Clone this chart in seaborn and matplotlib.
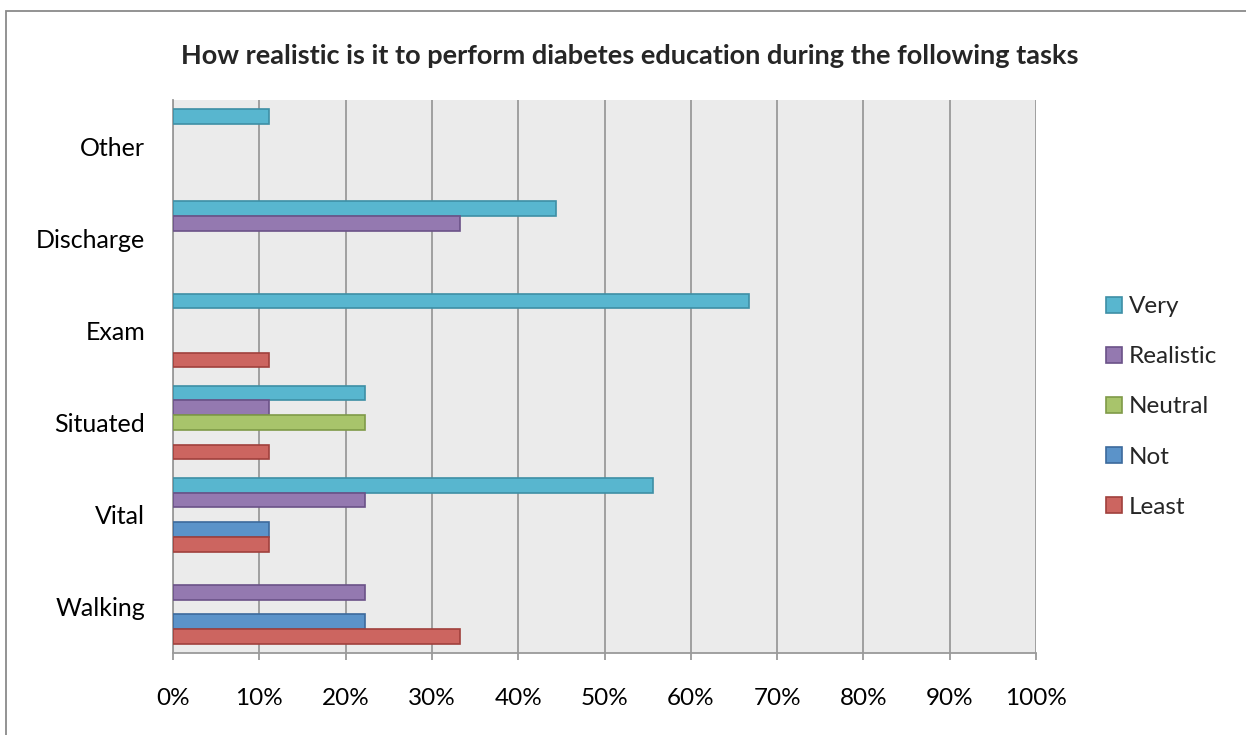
import matplotlib
matplotlib.use("Agg")
import matplotlib.pyplot as plt
import seaborn as sns
import pandas as pd
from matplotlib.patches import Patch, Rectangle
from matplotlib.ticker import MultipleLocator, PercentFormatter

# ---- data ----
tasks = ["Other", "Discharge", "Exam", "Situated", "Vital", "Walking"]  # top -> bottom
levels = ["Very", "Realistic", "Neutral", "Not", "Least"]               # top -> bottom in group
very      = [11.1, 44.4, 66.7, 22.2, 55.6, 0.0]
realistic = [0.0, 33.3, 0.0, 11.1, 22.2, 22.2]
neutral   = [0.0, 0.0, 0.0, 22.2, 0.0, 0.0]
not_      = [0.0, 0.0, 0.0, 0.0, 11.1, 22.2]
least     = [0.0, 0.0, 11.1, 11.1, 11.1, 33.3]
title = "How realistic is it to perform diabetes education during the following tasks"

series = {"Very": very, "Realistic": realistic, "Neutral": neutral, "Not": not_, "Least": least}
rows = []
for lvl in levels:
    for t, v in zip(tasks, series[lvl]):
        rows.append({"Task": t, "Level": lvl, "Value": v})
df = pd.DataFrame(rows)

fills = {"Very": "#58b6cf", "Realistic": "#9479b0", "Neutral": "#a8c46b",
         "Not": "#5b93c9", "Least": "#cc6560"}
edges = {"Very": "#3e8fa5", "Realistic": "#6b5288", "Neutral": "#7f9a48",
         "Not": "#3c6a9c", "Least": "#a0403c"}

sns.set_theme(style="white")
plt.rcParams["font.family"] = ["Lato", "DejaVu Sans"]

fig = plt.figure(figsize=(12.46, 7.35), dpi=100)
ax = fig.add_axes([173/1246, 1 - 653/735, (1036 - 173)/1246, (653 - 100)/735])

sns.barplot(data=df, y="Task", x="Value", hue="Level", order=tasks, hue_order=levels,
            palette=fills, orient="h", width=0.8, dodge=True, ax=ax, legend=False,
            linewidth=1.2, saturation=1, zorder=3)

# style edges per series, hide zero bars
for lvl, cont in zip(levels, ax.containers):
    for bar in cont:
        bar.set_edgecolor(edges[lvl])
        if bar.get_width() == 0:
            bar.set_visible(False)

ax.set_facecolor("#ebebeb")
ax.set_xlim(0, 100)
ax.xaxis.set_major_locator(MultipleLocator(10))
ax.xaxis.set_major_formatter(PercentFormatter(decimals=0))
ax.grid(axis="x", color="#9a9a9a", linewidth=1.3, zorder=0)
ax.set_axisbelow(True)
ax.set_xlabel("")
ax.set_ylabel("")
for s in ["top", "right"]:
    ax.spines[s].set_visible(False)
for s in ["left", "bottom"]:
    ax.spines[s].set_color("#9a9a9a")
    ax.spines[s].set_linewidth(1.3)
ax.tick_params(axis="x", which="major", direction="out", length=5, width=1.3,
               color="#9a9a9a", labelsize=17.5, pad=20, bottom=True)
ax.tick_params(axis="y", length=0, labelsize=18, pad=20)
for lab in ax.get_xticklabels() + ax.get_yticklabels():
    lab.set_color("black")

fig.text(630/1246, 1 - 56/735, title, ha="center", va="center",
         fontsize=19.5, fontweight="bold")

handles = [Patch(facecolor=fills[l], edgecolor=edges[l], linewidth=1.2) for l in levels]
fig.legend(handles, levels, loc="center left", bbox_to_anchor=(1106/1246, 1 - 407/735),
           frameon=False, fontsize=17.5, handlelength=0.65, handleheight=0.65,
           handletextpad=0.3, labelspacing=1.2, borderaxespad=0, borderpad=0)

fig.add_artist(Rectangle((6/1246, -0.1), 1.2, 1.1 - 11/735, transform=fig.transFigure,
                         fill=False, edgecolor="#8a8a8a", linewidth=1.3))

fig.savefig("out.png", dpi=100)
